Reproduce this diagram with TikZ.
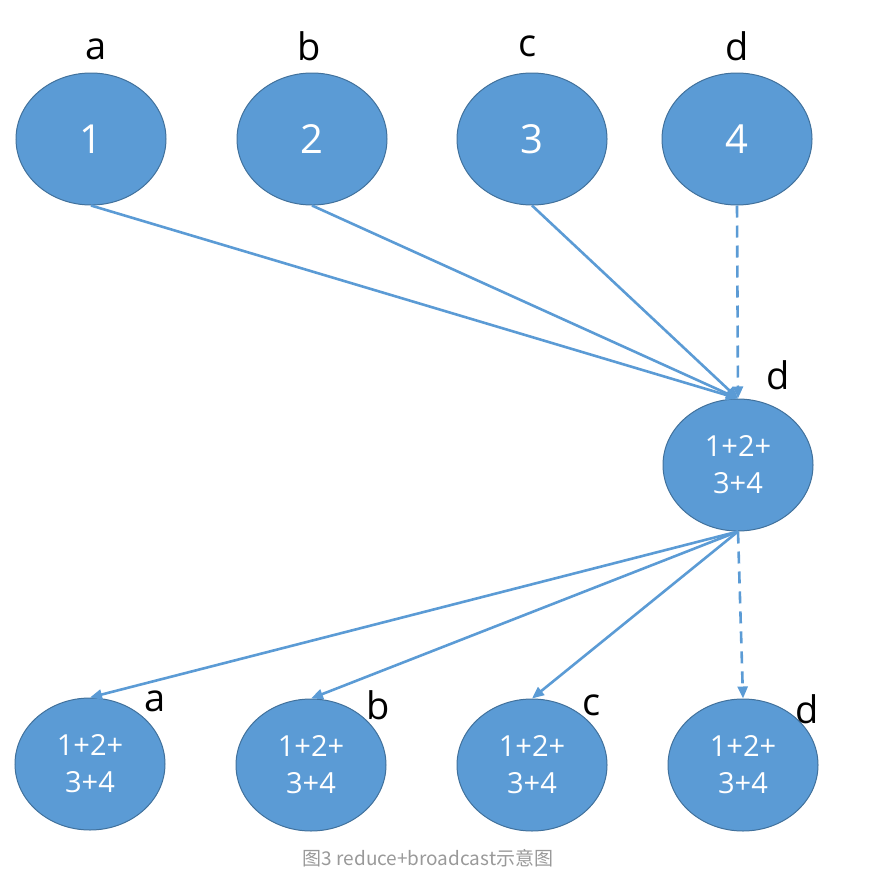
\documentclass[tikz,border=0pt]{standalone}
\usepackage{fontspec}
\setmainfont{Open Sans}
\newfontfamily\cjk{Noto Sans CJK SC}
\usetikzlibrary{shapes.geometric,arrows.meta}
\definecolor{fillblue}{HTML}{5B9BD5}
\definecolor{edgeblue}{HTML}{41719C}
\definecolor{capgray}{HTML}{999999}
\tikzset{
  proc/.style={ellipse, fill=fillblue, draw=edgeblue, line width=1pt, minimum width=150pt, minimum height=132pt, inner sep=0pt, text=white},
  bignum/.style={font=\fontsize{40}{40}\selectfont},
  sumtxt/.style={font=\fontsize{29}{37}\selectfont, align=center},
  lbl/.style={font=\fontsize{38}{38}\selectfont, text=black, inner sep=0pt},
  conn/.style={draw=fillblue, line width=2.6pt, -{Triangle[length=12pt,width=10pt]}},
  dconn/.style={conn, dash pattern=on 12pt off 8pt},
}
\begin{document}
\begin{tikzpicture}[x=1pt,y=-1pt]
\useasboundingbox (0,0) rectangle (870,886);
% top row
\node[proc,bignum] (t1) at (91,139) {1};
\node[proc,bignum] (t2) at (312,139) {2};
\node[proc,bignum] (t3) at (532,139) {3};
\node[proc,bignum] (t4) at (737,139) {4};
\node[lbl] (la) at (96,49) {a};
\node[lbl] (lb) at (309,46) {b};
\node[lbl] (lc) at (528,46) {c};
\node[lbl] (ld) at (737,46) {d};
% middle
\node[proc,sumtxt] (m) at (738,465) {1+2+\\3+4};
\node[lbl] (lm) at (778,375) {d};
% bottom row
\node[proc,sumtxt] (b1) at (90,764) {1+2+\\3+4};
\node[proc,sumtxt] (b2) at (311,765) {1+2+\\3+4};
\node[proc,sumtxt] (b3) at (532,765) {1+2+\\3+4};
\node[proc,sumtxt] (b4) at (743,765) {1+2+\\3+4};
\node[lbl] (lba) at (155,701) {a};
\node[lbl] (lbb) at (378,705) {b};
\node[lbl] (lbc) at (592,705) {c};
\node[lbl] (lbd) at (807,709) {d};
% connectors
\draw[conn] (t1.south) -- (m.north);
\draw[conn] (t2.south) -- (m.north);
\draw[conn] (t3.south) -- (m.north);
\draw[dconn] (t4.south) -- (m.north);
\draw[conn] (m.south) -- (b1.north);
\draw[conn] (m.south) -- (b2.north);
\draw[conn] (m.south) -- (b3.north);
\draw[dconn] (m.south) -- (b4.north);
% caption
\node[font=\cjk\fontsize{19}{20}\selectfont, text=capgray] (cap) at (428,858) {图3 reduce+broadcast示意图};
\end{tikzpicture}
\end{document}
